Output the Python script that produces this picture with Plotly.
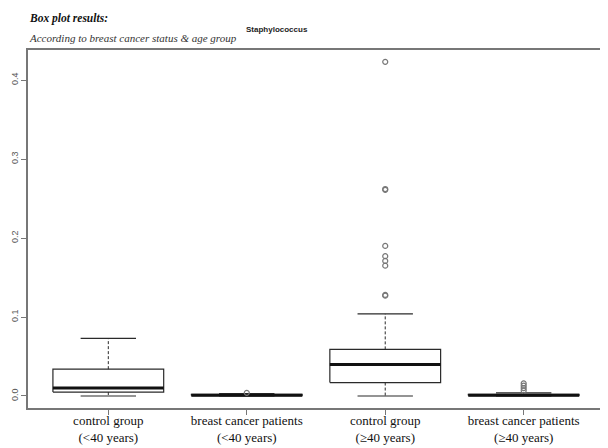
import plotly.graph_objects as go

categories = ["control group<br>(<40 years)", "breast cancer patients<br>(<40 years)",
              "control group<br>(≥40 years)", "breast cancer patients<br>(≥40 years)"]
q1 = [0.005, 0.0005, 0.017, 0.0005]
median = [0.010, 0.001, 0.040, 0.001]
q3 = [0.034, 0.002, 0.059, 0.002]
lower = [0.000, 0.000, 0.000, 0.000]
upper = [0.073, 0.003, 0.104, 0.004]
outliers = [[], [0.004], [0.423, 0.261, 0.262, 0.190, 0.177, 0.171, 0.165, 0.128, 0.127],
            [0.016, 0.013, 0.010, 0.007]]
y_ticks = [0.0, 0.1, 0.2, 0.3, 0.4]

line_col = "#2a2a2a"
box_half = 0.4
cap_half = 0.2

# page has an 8px body margin; figure is sized to fill the rest of the window
OFF = 8
W, H = 608 - OFF, 448 - OFF
ML, MR, MT, MB = 28 - OFF, 4, 50 - OFF, 40

fig = go.Figure()
for i, _ in enumerate(categories):
    x = i + 1
    fig.add_trace(go.Scatter(
        x=[x - box_half, x + box_half, x + box_half, x - box_half, x - box_half],
        y=[q1[i], q1[i], q3[i], q3[i], q1[i]],
        mode="lines", line=dict(color=line_col, width=1.2), hoverinfo="skip"))
    fig.add_trace(go.Scatter(x=[x, x], y=[q3[i], upper[i]], mode="lines",
                             line=dict(color=line_col, width=1, dash="3px,2px"), hoverinfo="skip"))
    fig.add_trace(go.Scatter(x=[x, x], y=[q1[i], lower[i]], mode="lines",
                             line=dict(color=line_col, width=1, dash="3px,2px"), hoverinfo="skip"))
    for v in (upper[i], lower[i]):
        fig.add_trace(go.Scatter(x=[x - cap_half, x + cap_half], y=[v, v], mode="lines",
                                 line=dict(color=line_col, width=1.2), hoverinfo="skip"))
    fig.add_trace(go.Scatter(x=[x - box_half, x + box_half], y=[median[i], median[i]], mode="lines",
                             line=dict(color="#111111", width=3), hoverinfo="skip"))
    if outliers[i]:
        fig.add_trace(go.Scatter(x=[x] * len(outliers[i]), y=outliers[i], mode="markers",
                                 marker=dict(symbol="circle-open", size=5, color="#777777",
                                             line=dict(width=1.2, color="#777777")),
                                 hoverinfo="skip"))

serif = "Liberation Serif, Times New Roman, serif"
sans = "Liberation Sans, Arial, sans-serif"

fig.update_layout(
    width=W, height=H,
    margin=dict(l=ML, r=MR, t=MT, b=MB, autoexpand=False),
    paper_bgcolor="white", plot_bgcolor="white",
    showlegend=False,
    xaxis=dict(range=[0.42, 4.58], tickvals=[1, 2, 3, 4], ticktext=categories,
               showgrid=False, zeroline=False, showline=True, mirror=True,
               linecolor="#777777", linewidth=1.5, ticks="outside", ticklen=5,
               tickcolor="#777777", ticklabelstandoff=-5,
               tickfont=dict(family=serif, size=13, color="#111111")),
    yaxis=dict(range=[-0.0152, 0.438], tickvals=y_ticks, ticktext=[f"{v:.1f}" for v in y_ticks],
               showgrid=False, zeroline=False, showline=True, mirror=True,
               linecolor="#777777", linewidth=1.5, ticks="outside", ticklen=5,
               tickcolor="#777777", tickangle=-90,
               tickfont=dict(family=sans, size=9, color="#555555")),
)

# annotations placed by page pixel position
notes = [
    ("<b><i>Box plot results:</i></b>", 27, 19, serif, 11.5, "#111111"),
    ("<i>According to breast cancer status &amp; age group</i>", 27, 38, serif, 11, "#333333"),
    ("<b>Staphylococcus</b>", 244, 30, sans, 8, "#222222"),
]
pw, ph = W - ML - MR, H - MT - MB
for text, px, py, fam, size, col in notes:
    fig.add_annotation(text=text, xref="paper", yref="paper",
                       x=(px - OFF - ML) / pw, y=(H - MB - (py - OFF)) / ph,
                       showarrow=False, xanchor="left", yanchor="middle",
                       font=dict(family=fam, size=size, color=col))

fig.write_html("out.html")
